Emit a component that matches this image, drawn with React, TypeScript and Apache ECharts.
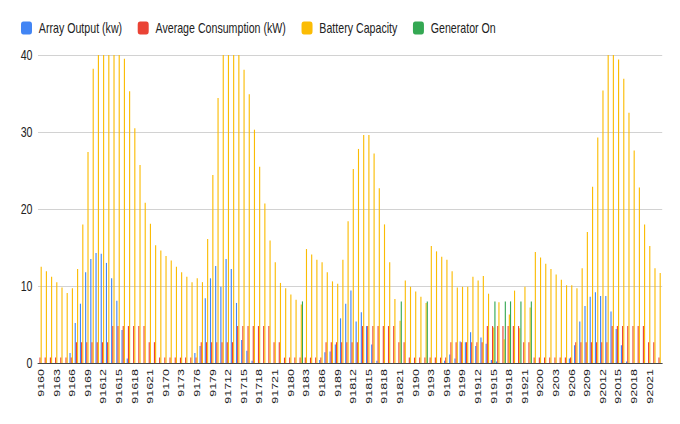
import React, { useEffect, useRef } from "react";
import * as echarts from "echarts";

// Day prefixes and hours that make up the category labels (e.g. "916" + 12 -> "91612")
const DAYS = ["916", "917", "918", "919", "920"];
const HOURS = [0, 1, 2, 3, 4, 5, 6, 7, 8, 9, 10, 11, 12, 13, 14, 15, 16, 17, 18, 19, 20, 21, 22, 23];

const SERIES_NAMES = ["Array Output (kw)", "Average Consumption (kW)", "Battery Capacity", "Generator On"];
const COLORS = ["#4285F4", "#EA4335", "#FBBC04", "#34A853"];

const Y_TICKS = [0, 10, 20, 30, 40];

const ARRAY_OUTPUT = [
  0, 0, 0, 0, 0, 0, 1.3, 5.2, 7.7, 11.8, 13.5, 14.3, 14.2, 13.0, 11.0, 8.1, 4.3, 0.6, 0, 0, 0, 0, 0, 0,
  0, 0, 0, 0, 0, 0, 1.3, 2.2, 8.4, 11.0, 12.6, 9.9, 13.5, 12.2, 7.8, 3.0, 1.6, 0.3, 0, 0, 0, 0, 0, 0,
  0, 0, 0, 0, 0, 0, 0.4, 1.4, 1.5, 2.4, 5.8, 7.7, 9.4, 5.4, 6.6, 4.8, 2.4, 0.3, 0, 0, 0, 0, 0, 0,
  0, 0, 0, 0, 0, 0, 0.3, 1.1, 0.6, 2.8, 2.7, 4.0, 2.2, 3.3, 2.5, 0.4, 0.2, 0, 0, 0, 0, 0, 0, 0,
  0, 0, 0, 0, 0, 0, 0.6, 2.3, 5.4, 7.4, 8.6, 9.2, 8.7, 8.7, 6.7, 4.4, 2.3, 0.2, 0, 0, 0, 0, 0, 0,
];

const AVERAGE_CONSUMPTION = [
  0.7, 0.7, 0.7, 0.7, 0.7, 0.7, 0.7, 2.7, 2.7, 2.7, 2.7, 2.7, 2.7, 2.7, 4.8, 4.8, 4.8, 4.8, 4.8, 4.8, 4.8, 2.7, 2.7, 0.7,
  0.7, 0.7, 0.7, 0.7, 0.7, 0.7, 0.7, 2.7, 2.7, 2.7, 2.7, 2.7, 2.7, 2.7, 4.8, 4.8, 4.8, 4.8, 4.8, 4.8, 4.8, 2.7, 2.7, 0.7,
  0.7, 0.7, 0.7, 0.7, 0.7, 0.7, 0.7, 2.7, 2.7, 2.7, 2.7, 2.7, 2.7, 2.7, 4.8, 4.8, 4.8, 4.8, 4.8, 4.8, 4.8, 2.7, 2.7, 0.7,
  0.7, 0.7, 0.7, 0.7, 0.7, 0.7, 0.7, 2.7, 2.7, 2.7, 2.7, 2.7, 2.7, 2.7, 4.8, 4.8, 4.8, 4.8, 4.8, 4.8, 4.8, 2.7, 2.7, 0.7,
  0.7, 0.7, 0.7, 0.7, 0.7, 0.7, 0.7, 2.7, 2.7, 2.7, 2.7, 2.7, 2.7, 2.7, 4.8, 4.8, 4.8, 4.8, 4.8, 4.8, 4.8, 2.7, 2.7, 0.7,
];

const BATTERY_CAPACITY = [
  12.5, 11.9, 11.2, 10.5, 9.8, 9.1, 9.7, 12.2, 18.0, 27.4, 38.2, 40, 40, 40, 40, 40, 39.5, 35.3, 30.5, 25.7, 20.8, 18.1, 15.3, 14.6,
  13.9, 13.3, 12.5, 11.8, 11.2, 10.5, 11.0, 10.5, 16.1, 24.4, 34.4, 40, 40, 40, 40, 38.1, 34.9, 30.3, 25.5, 20.7, 15.9, 13.1, 10.4, 9.7,
  8.9, 8.2, 7.6, 14.8, 14.1, 13.4, 13.1, 11.8, 10.6, 10.3, 13.4, 18.4, 25.2, 27.8, 29.6, 29.6, 27.2, 22.7, 18.0, 13.1, 8.3, 5.5, 10.7, 9.9,
  9.3, 8.6, 7.8, 15.2, 14.5, 13.8, 13.4, 11.9, 9.8, 9.9, 9.9, 11.2, 10.7, 11.3, 9.0, 4.6, 7.9, 3.1, 6.3, 9.4, 4.5, 9.9, 7.2, 14.4,
  13.7, 12.9, 12.2, 11.5, 10.8, 10.1, 10.1, 9.7, 12.3, 17.0, 22.9, 29.3, 35.4, 40, 40, 39.4, 36.9, 32.5, 27.6, 22.8, 18.0, 15.2, 12.3, 11.7,
];

const GENERATOR_ON = [
  0, 0, 0, 0, 0, 0, 0, 0, 0, 0, 0, 0, 0, 0, 0, 0, 0, 0, 0, 0, 0, 0, 0, 0,
  0, 0, 0, 0, 0, 0, 0, 0, 0, 0, 0, 0, 0, 0, 0, 0, 0, 0, 0, 0, 0, 0, 0, 0,
  0, 0, 8, 0, 0, 0, 0, 0, 0, 0, 0, 0, 0, 0, 0, 0, 0, 0, 0, 0, 0, 8, 0, 0,
  0, 0, 8, 0, 0, 0, 0, 0, 0, 0, 0, 0, 0, 0, 0, 8, 0, 8, 8, 0, 8, 0, 8, 0,
  0, 0, 0, 0, 0, 0, 0, 0, 0, 0, 0, 0, 0, 0, 0, 0, 0, 0, 0, 0, 0, 0, 0, 0,
];

const CATEGORIES = DAYS.flatMap((d) => HOURS.map((h) => d + String(h)));
const SERIES_DATA = [ARRAY_OUTPUT, AVERAGE_CONSUMPTION, BATTERY_CAPACITY, GENERATOR_ON];

// The reference is horizontally compressed; the chart is laid out wider and squeezed to 680px.
const SQUEEZE = 0.76;
const VIEW_W = 680;
const VIEW_H = 424;
const INNER_W = VIEW_W / SQUEEZE;
const u = (px: number) => px / SQUEEZE; // horizontal px in the final picture -> layout px

const FONT = "'Liberation Sans', Arial, sans-serif";

export default function App() {
  const ref = useRef<HTMLDivElement>(null);

  useEffect(() => {
    if (!ref.current) return;
    const chart = echarts.init(ref.current, undefined, { renderer: "svg" });
    chart.setOption({
      animation: false,
      backgroundColor: "#ffffff",
      color: COLORS,
      legend: {
        top: 21,
        left: u(21),
        padding: 0,
        itemWidth: u(11),
        itemHeight: 13,
        itemGap: u(15.5),
        icon: "roundRect",
        textStyle: { fontFamily: FONT, fontSize: 14, color: "#222222", padding: [0, 0, 0, 4] },
        data: SERIES_NAMES,
      },
      grid: { left: u(38), right: u(18), top: 55, bottom: 61, containLabel: false },
      xAxis: {
        type: "category",
        data: CATEGORIES,
        boundaryGap: true,
        axisLine: { show: true, lineStyle: { color: "#333333", width: 1 } },
        axisTick: { show: false },
        axisLabel: {
          interval: 2,
          rotate: 90,
          margin: 6,
          fontFamily: FONT,
          fontSize: 12.5,
          color: "#222222",
        },
      },
      yAxis: {
        type: "value",
        min: Y_TICKS[0],
        max: Y_TICKS[Y_TICKS.length - 1],
        interval: Y_TICKS[1] - Y_TICKS[0],
        axisLine: { show: false },
        axisTick: { show: false },
        splitLine: { lineStyle: { color: "#cccccc", width: 1 } },
        axisLabel: { margin: u(5.5), fontFamily: FONT, fontSize: 14, color: "#222222" },
      },
      series: SERIES_NAMES.map((name, i) => ({
        name,
        type: "bar",
        data: SERIES_DATA[i],
        barGap: "5%",
        barCategoryGap: "10%",
        itemStyle: { color: COLORS[i] },
      })),
    });
    return () => chart.dispose();
  }, []);

  return (
    <div
      style={{
        position: "fixed",
        left: 0,
        top: 0,
        width: VIEW_W,
        height: VIEW_H,
        overflow: "hidden",
        background: "#fff",
      }}
    >
      <div
        ref={ref}
        style={{
          width: INNER_W,
          height: VIEW_H,
          transform: `scaleX(${SQUEEZE})`,
          transformOrigin: "0 0",
        }}
      />
    </div>
  );
}
